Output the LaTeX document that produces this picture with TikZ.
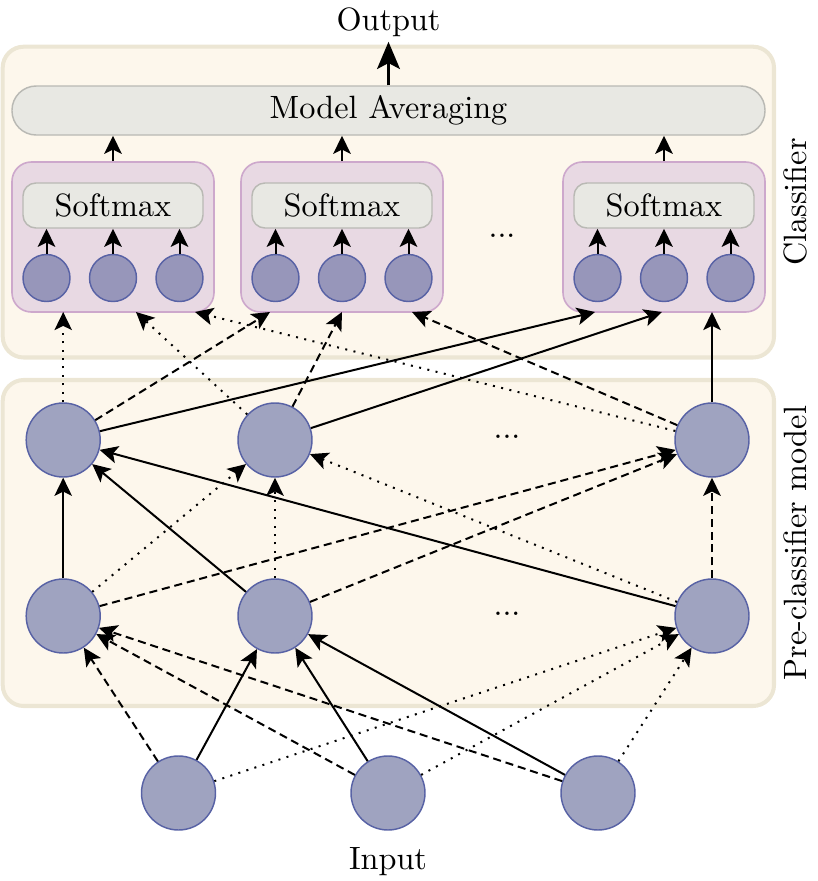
\documentclass[tikz,border=0pt]{standalone}
\usetikzlibrary{arrows.meta}
\definecolor{creamfill}{RGB}{253,247,236}
\definecolor{creamdraw}{RGB}{236,230,212}
\definecolor{grayfill}{RGB}{232,232,227}
\definecolor{graydraw}{RGB}{185,185,180}
\definecolor{purpfill}{RGB}{232,217,227}
\definecolor{purpdraw}{RGB}{205,168,204}
\definecolor{nfill}{RGB}{159,163,192}
\definecolor{ndraw}{RGB}{88,98,165}
\definecolor{snfill}{RGB}{151,150,186}
\begin{document}
\begin{tikzpicture}[x=0.31pt,y=-0.31pt,
  panel/.style={draw=creamdraw, fill=creamfill, line width=1.25pt, rounded corners=6.5pt, minimum width=239.1pt, inner sep=0pt},
  graybox/.style={draw=graydraw, fill=grayfill, line width=0.45pt, inner sep=0pt},
  purpbox/.style={draw=purpdraw, fill=purpfill, line width=0.5pt, rounded corners=6pt, minimum width=62.62pt, minimum height=46.5pt, inner sep=0pt},
  neuron/.style={circle, draw=ndraw, fill=nfill, line width=0.45pt, minimum size=22.94pt, inner sep=0pt},
  sneuron/.style={circle, draw=ndraw, fill=snfill, line width=0.45pt, minimum size=14.57pt, inner sep=0pt},
  arr/.style={line width=0.62pt, -{Stealth[length=5.6pt,width=5.4pt,inset=1.3pt]}},
  dotarr/.style={arr, dotted},
  dasharr/.style={arr, dash pattern=on 2.5pt off 1.5pt},
  bigarr/.style={line width=1.2pt, -{Stealth[length=8.4pt,width=7pt,inset=1.8pt]}}
]
\useasboundingbox (0,0) rectangle (818,881);

% panels
\node[panel, minimum height=96.35pt] (cls) at (388.35,202.1) {};
\node[panel, minimum height=101.06pt] (pre) at (388.35,543) {};
\node[rotate=90, anchor=base] (lblC) at (806,202) {Classifier};
\node[rotate=90, anchor=base] (lblP) at (806,543) {Pre-classifier model};

% model averaging and output
\node[graybox, rounded corners=7.5pt, minimum width=233.43pt, minimum height=15.19pt] (ma) at (388.5,110.5) {Model Averaging};
\node[anchor=base, inner sep=1.5pt] (out) at (388.5,30) {Output};
\draw[bigarr] (ma.north) -- (out.south);

% classifier heads
\foreach \i/\x/\xa/\xc in {1/113/46.5/179.5, 2/342/275.5/408.5, 3/664/597.5/730.5} {
  \node[purpbox] (P\i) at (\x,237) {};
  \node[graybox, rounded corners=4pt, minimum width=55.8pt, minimum height=13.95pt] (S\i) at (\x,205.5) {Softmax};
  \node[sneuron] (c\i1) at (\xa,278) {};
  \node[sneuron] (c\i2) at (\x,278) {};
  \node[sneuron] (c\i3) at (\xc,278) {};
  \draw[arr] (c\i1) -- (c\i1 |- S\i.south);
  \draw[arr] (c\i2) -- (c\i2 |- S\i.south);
  \draw[arr] (c\i3) -- (c\i3 |- S\i.south);
  \draw[arr] (P\i.north) -- (P\i.north |- ma.south);
}
\node (dots1) at (502,236) {...};

% pre-classifier neurons
\node[neuron] (h2a) at (63.2,440) {};
\node[neuron] (h2b) at (275,440) {};
\node[neuron] (h2c) at (712,440) {};
\node[neuron] (h1a) at (63.2,616) {};
\node[neuron] (h1b) at (275,616) {};
\node[neuron] (h1c) at (712,616) {};
\node (dots2) at (507,437) {...};
\node (dots3) at (507,614) {...};

% input neurons
\node[neuron] (i1) at (178.5,793) {};
\node[neuron] (i2) at (388,793) {};
\node[neuron] (i3) at (598,793) {};
\node[anchor=base] (inp) at (388,869) {Input};

% target points on classifier heads
\coordinate (p1a) at (63.2,312);
\coordinate (p1b) at (136,312);
\coordinate (p1c) at (195,312);
\coordinate (p2a) at (270,312);
\coordinate (p2b) at (342,312);
\coordinate (p2c) at (412,312);
\coordinate (p3a) at (595,312);
\coordinate (p3b) at (662,312);
\coordinate (p3c) at (712,312);

% hidden layer 2 -> classifier heads
\draw[dotarr] (h2a) -- (p1a);
\draw[dotarr] (h2b) -- (p1b);
\draw[dotarr] (h2c) -- (p1c);
\draw[dasharr] (h2a) -- (p2a);
\draw[dasharr] (h2b) -- (p2b);
\draw[dasharr] (h2c) -- (p2c);
\draw[arr] (h2a) -- (p3a);
\draw[arr] (h2b) -- (p3b);
\draw[arr] (h2c) -- (p3c);

% hidden layer 1 -> hidden layer 2
\draw[arr] (h1a) -- (h2a);
\draw[arr] (h1b) -- (h2a);
\draw[arr] (h1c) -- (h2a);
\draw[dotarr] (h1a) -- (h2b);
\draw[dotarr] (h1b) -- (h2b);
\draw[dotarr] (h1c) -- (h2b);
\draw[dasharr] (h1a) -- (h2c);
\draw[dasharr] (h1b) -- (h2c);
\draw[dasharr] (h1c) -- (h2c);

% input -> hidden layer 1
\draw[dasharr] (i1) -- (h1a);
\draw[dasharr] (i2) -- (h1a);
\draw[dasharr] (i3) -- (h1a);
\draw[arr] (i1) -- (h1b);
\draw[arr] (i2) -- (h1b);
\draw[arr] (i3) -- (h1b);
\draw[dotarr] (i1) -- (h1c);
\draw[dotarr] (i2) -- (h1c);
\draw[dotarr] (i3) -- (h1c);
\end{tikzpicture}
\end{document}
